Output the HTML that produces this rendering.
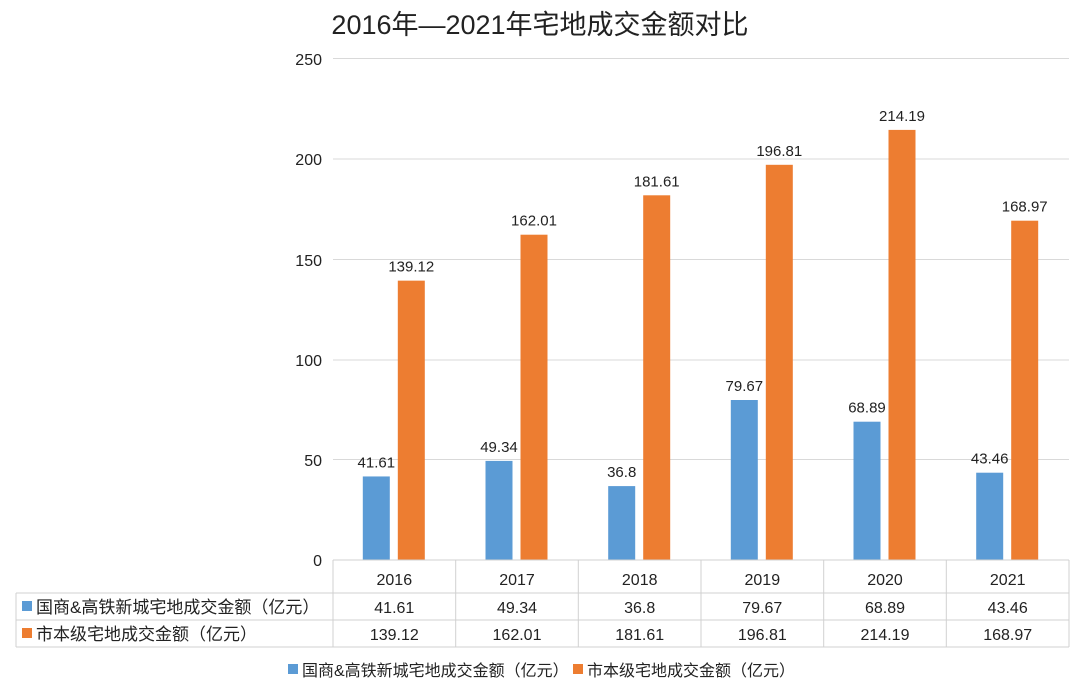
<!DOCTYPE html>
<html><head><meta charset="utf-8"><style>
body{margin:0;background:#fff}
text{font-family:"Liberation Sans","Noto Sans CJK SC",sans-serif;fill:#222}
</style></head><body>
<svg width="1080" height="692" viewBox="0 0 1080 692" xmlns="http://www.w3.org/2000/svg">
<rect width="1080" height="692" fill="#fff"/>
<text x="540" y="34" font-size="27" text-anchor="middle" fill="#111">2016年—2021年宅地成交金额对比</text>
<g stroke="#d9d9d9" stroke-width="1">
<line x1="333" y1="58.5" x2="1069" y2="58.5"/>
<line x1="333" y1="159" x2="1069" y2="159"/>
<line x1="333" y1="259.5" x2="1069" y2="259.5"/>
<line x1="333" y1="360" x2="1069" y2="360"/>
<line x1="333" y1="459.5" x2="1069" y2="459.5"/>
</g>
<g font-size="16" text-anchor="end">
<text x="322" y="65">250</text><text x="322" y="165">200</text><text x="322" y="266">150</text><text x="322" y="366">100</text><text x="322" y="466">50</text><text x="322" y="566">0</text>
</g>
<g fill="#5b9bd5">
<rect x="362.8" y="476.45" width="27" height="83.55"/>
<rect x="485.5" y="460.9" width="27" height="99.1"/>
<rect x="608.2" y="486.1" width="27" height="73.9"/>
<rect x="730.8" y="400" width="27" height="160"/>
<rect x="853.5" y="421.7" width="27" height="138.3"/>
<rect x="976.2" y="472.7" width="27" height="87.3"/>
</g>
<g fill="#ed7d31">
<rect x="397.8" y="280.65" width="27" height="279.35"/>
<rect x="520.5" y="234.7" width="27" height="325.3"/>
<rect x="643.2" y="195.3" width="27" height="364.7"/>
<rect x="765.8" y="164.8" width="27" height="395.2"/>
<rect x="888.5" y="129.9" width="27" height="430.1"/>
<rect x="1011.2" y="220.7" width="27" height="339.3"/>
</g>
<g font-size="15" text-anchor="middle">
<text x="376.3" y="467.5">41.61</text>
<text x="499" y="452">49.34</text>
<text x="621.7" y="477">36.8</text>
<text x="744.3" y="391">79.67</text>
<text x="867" y="412.7">68.89</text>
<text x="989.7" y="463.7">43.46</text>
<text x="411.3" y="271.6">139.12</text>
<text x="534" y="225.7">162.01</text>
<text x="656.7" y="186.3">181.61</text>
<text x="779.3" y="155.8">196.81</text>
<text x="902" y="120.9">214.19</text>
<text x="1024.7" y="211.7">168.97</text>
</g>
<g stroke="#d0d0d0" stroke-width="1" fill="none">
<line x1="333" y1="560" x2="1069" y2="560"/>
<line x1="16" y1="593" x2="1069" y2="593"/>
<line x1="16" y1="620" x2="1069" y2="620"/>
<line x1="16" y1="647" x2="1069" y2="647"/>
<line x1="16" y1="593" x2="16" y2="647"/>
<line x1="1069" y1="560" x2="1069" y2="647"/>
<line x1="333" y1="560" x2="333" y2="647"/>
<line x1="455.7" y1="560" x2="455.7" y2="647"/>
<line x1="578.3" y1="560" x2="578.3" y2="647"/>
<line x1="701" y1="560" x2="701" y2="647"/>
<line x1="823.7" y1="560" x2="823.7" y2="647"/>
<line x1="946.3" y1="560" x2="946.3" y2="647"/>
</g>
<g font-size="16" text-anchor="middle">
<text x="394.3" y="585">2016</text><text x="517" y="585">2017</text><text x="639.7" y="585">2018</text><text x="762.3" y="585">2019</text><text x="885" y="585">2020</text><text x="1007.7" y="585">2021</text>
<text x="394.3" y="613">41.61</text><text x="517" y="613">49.34</text><text x="639.7" y="613">36.8</text><text x="762.3" y="613">79.67</text><text x="885" y="613">68.89</text><text x="1007.7" y="613">43.46</text>
<text x="394.3" y="640">139.12</text><text x="517" y="640">162.01</text><text x="639.7" y="640">181.61</text><text x="762.3" y="640">196.81</text><text x="885" y="640">214.19</text><text x="1007.7" y="640">168.97</text>
</g>
<rect x="22" y="601" width="10" height="10" fill="#5b9bd5"/>
<text x="36" y="613" font-size="17">国商&amp;高铁新城宅地成交金额（亿元）</text>
<rect x="22" y="628" width="10" height="10" fill="#ed7d31"/>
<text x="36" y="640" font-size="17">市本级宅地成交金额（亿元）</text>
<rect x="288" y="664" width="10" height="10" fill="#5b9bd5"/>
<text x="302" y="676" font-size="16">国商&amp;高铁新城宅地成交金额（亿元）</text>
<rect x="573" y="664" width="10" height="10" fill="#ed7d31"/>
<text x="587" y="676" font-size="16">市本级宅地成交金额（亿元）</text>
</svg>
</body></html>
